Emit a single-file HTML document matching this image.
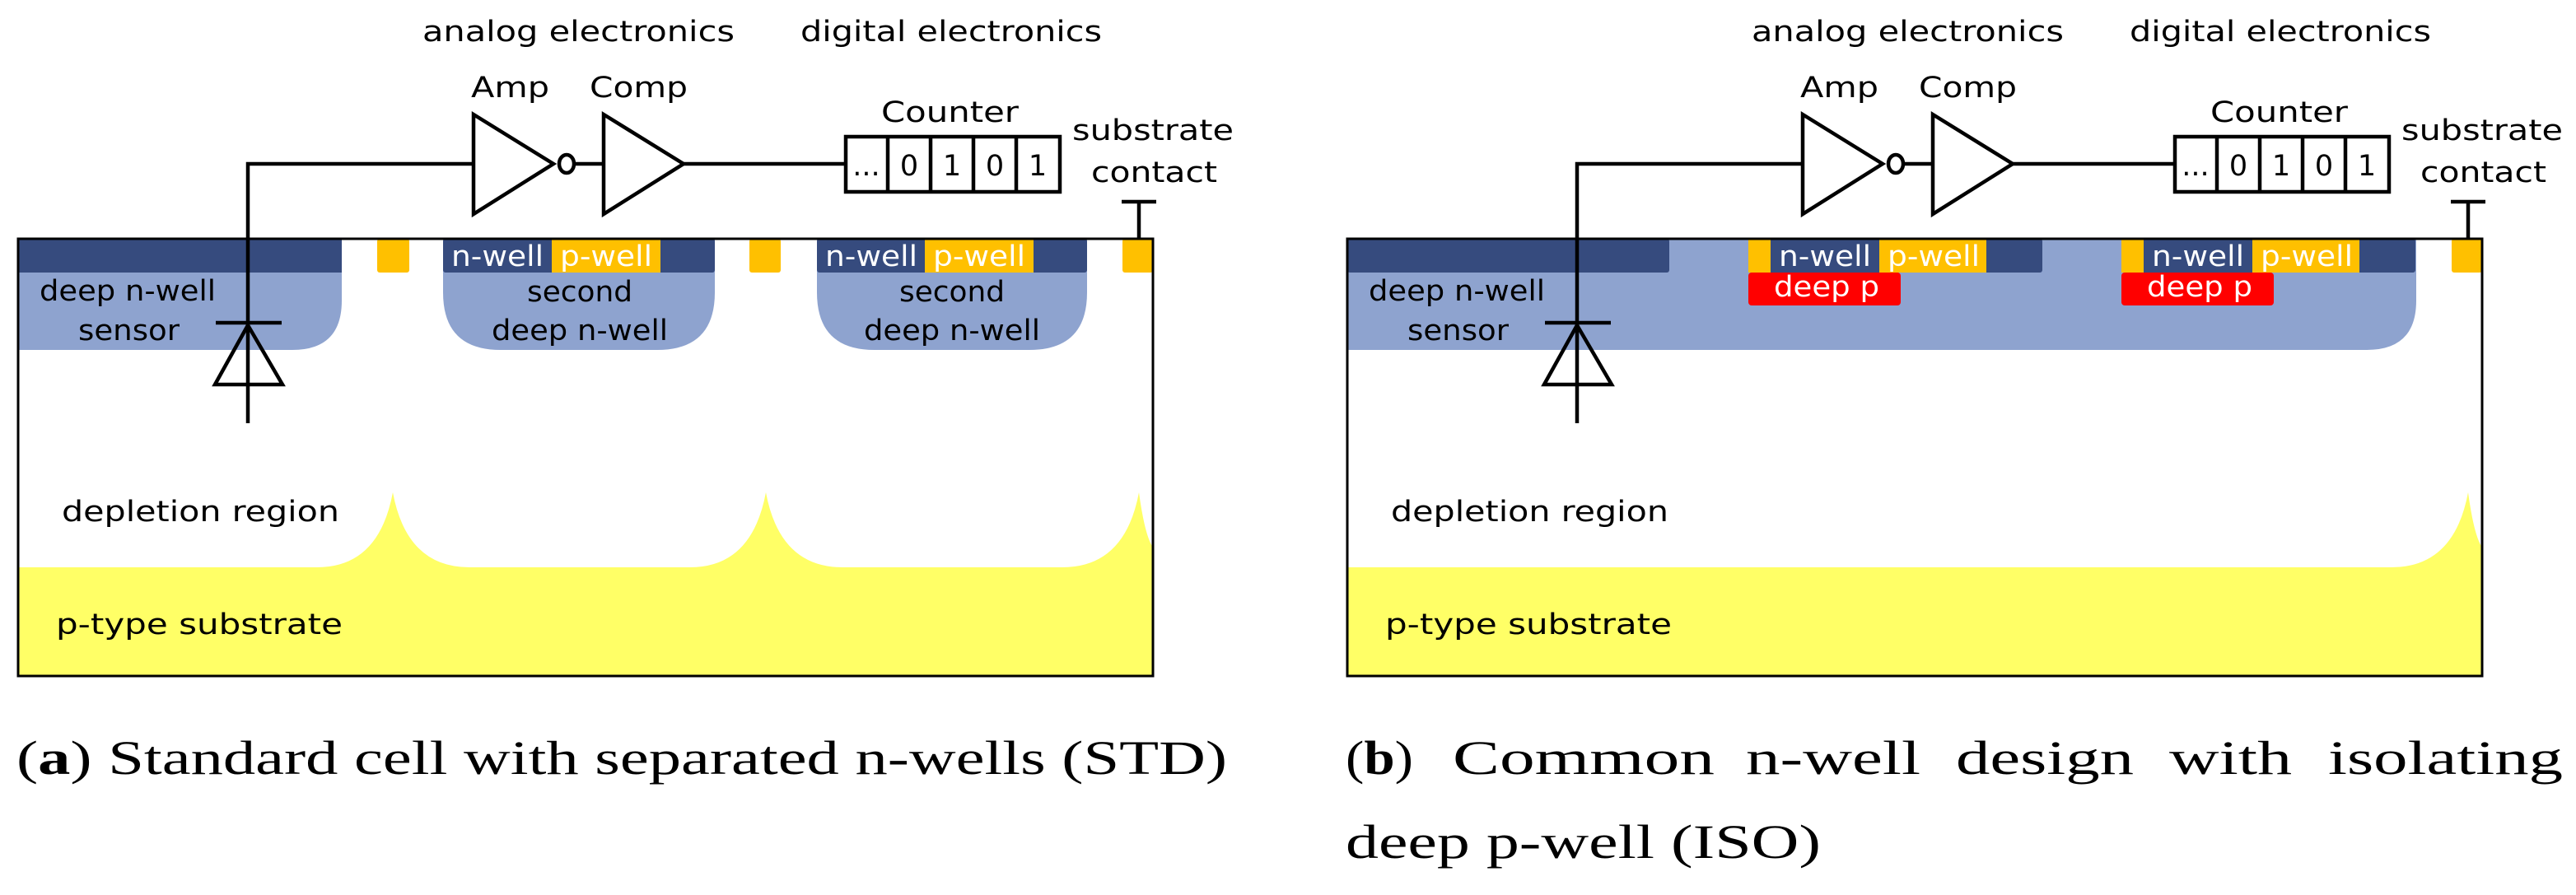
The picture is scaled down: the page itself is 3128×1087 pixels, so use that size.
<!DOCTYPE html>
<html><head><meta charset="utf-8"><style>
html,body{margin:0;padding:0;background:#fff;}
svg{display:block;}
.t{font-family:"DejaVu Sans","Liberation Sans",sans-serif;font-size:35px;}
.c{font-family:"Liberation Serif",serif;font-size:58px;}
</style></head><body>
<svg width="3128" height="1087" viewBox="0 0 3128 1087" xmlns="http://www.w3.org/2000/svg">
<defs>
<g id="common">
  <rect x="22" y="290" width="1378" height="531" fill="#fff"/>
</g>
<g id="circuit" fill="none" stroke="#000" stroke-width="4.5">
  <polyline points="301,514 301,199 575,199"/>
  <polygon points="575,139 672,199 575,260" fill="#fff"/>
  <ellipse cx="688" cy="199" rx="9" ry="11" fill="#fff"/>
  <line x1="697" y1="199" x2="733" y2="199"/>
  <polygon points="733,139 830,199 733,260" fill="#fff"/>
  <line x1="830" y1="199" x2="1027" y2="199"/>
  <rect x="1027" y="166" width="260" height="67" fill="#fff"/>
  <line x1="1078" y1="166" x2="1078" y2="233"/>
  <line x1="1130" y1="166" x2="1130" y2="233"/>
  <line x1="1182" y1="166" x2="1182" y2="233"/>
  <line x1="1234" y1="166" x2="1234" y2="233"/>
  <line x1="262" y1="392" x2="342" y2="392"/>
  <polygon points="301,395 261,467 343,467"/>
  <line x1="1362" y1="245" x2="1404" y2="245"/>
  <line x1="1383" y1="245" x2="1383" y2="290"/>
</g>
<g id="labels" class="t" fill="#000">
  <text x="513" y="50" textLength="379" lengthAdjust="spacingAndGlyphs">analog electronics</text>
  <text x="972" y="50" textLength="366" lengthAdjust="spacingAndGlyphs">digital electronics</text>
  <text x="572" y="118" textLength="95" lengthAdjust="spacingAndGlyphs">Amp</text>
  <text x="716" y="118" textLength="119" lengthAdjust="spacingAndGlyphs">Comp</text>
  <text x="1070" y="148" textLength="167" lengthAdjust="spacingAndGlyphs">Counter</text>
  <text x="1302" y="170" textLength="196" lengthAdjust="spacingAndGlyphs">substrate</text>
  <text x="1325" y="221" textLength="153" lengthAdjust="spacingAndGlyphs">contact</text>
  <text x="1052" y="213" text-anchor="middle">...</text>
  <text x="1104" y="213" text-anchor="middle">0</text>
  <text x="1156" y="213" text-anchor="middle">1</text>
  <text x="1208" y="213" text-anchor="middle">0</text>
  <text x="1260" y="213" text-anchor="middle">1</text>
  <text x="75" y="633" textLength="337" lengthAdjust="spacingAndGlyphs">depletion region</text>
  <text x="68" y="770" textLength="348" lengthAdjust="spacingAndGlyphs">p-type substrate</text>
  <text x="48" y="365" textLength="214" lengthAdjust="spacingAndGlyphs">deep n-well</text>
  <text x="95" y="413" textLength="123" lengthAdjust="spacingAndGlyphs">sensor</text>
</g>
</defs>

<!-- ===== Panel a ===== -->
<use href="#common"/>
<path d="M22,689 L385,689 Q460,689 477,598 Q494,689 570,689 L838,689 Q913,689 930,598 Q947,689 1023,689 L1290,689 Q1366,689 1383,598 Q1390,650 1400,665 L1400,821 L22,821 Z" fill="#FFFF66"/>
<path d="M22,290 L415,290 L415,365 Q415,425 355,425 L22,425 Z" fill="#8EA3CF"/>
<rect x="22" y="290" width="393" height="41" fill="#364B7E"/>
<rect x="458" y="290" width="39" height="41" rx="3" fill="#FFC000"/>
<path d="M538,290 L868,290 L868,355 Q868,425 798,425 L608,425 Q538,425 538,355 Z" fill="#8EA3CF"/>
<rect x="538" y="290" width="330" height="41" rx="3" fill="#364B7E"/>
<rect x="670" y="290" width="132" height="41" fill="#FFC000"/>
<rect x="910" y="290" width="38" height="41" rx="3" fill="#FFC000"/>
<path d="M992,290 L1320,290 L1320,355 Q1320,425 1250,425 L1062,425 Q992,425 992,355 Z" fill="#8EA3CF"/>
<rect x="992" y="290" width="328" height="41" rx="3" fill="#364B7E"/>
<rect x="1123" y="290" width="132" height="41" fill="#FFC000"/>
<rect x="1363" y="290" width="37" height="41" rx="3" fill="#FFC000"/>
<g class="t" fill="#fff">
  <text x="548" y="323" textLength="112" lengthAdjust="spacingAndGlyphs">n-well</text>
  <text x="680" y="323" textLength="112" lengthAdjust="spacingAndGlyphs">p-well</text>
  <text x="1002" y="323" textLength="112" lengthAdjust="spacingAndGlyphs">n-well</text>
  <text x="1133" y="323" textLength="112" lengthAdjust="spacingAndGlyphs">p-well</text>
</g>
<g class="t" fill="#000">
  <text x="640" y="366" textLength="128" lengthAdjust="spacingAndGlyphs">second</text>
  <text x="597" y="413" textLength="214" lengthAdjust="spacingAndGlyphs">deep n-well</text>
  <text x="1092" y="366" textLength="128" lengthAdjust="spacingAndGlyphs">second</text>
  <text x="1049" y="413" textLength="214" lengthAdjust="spacingAndGlyphs">deep n-well</text>
</g>
<rect x="22" y="290" width="1378" height="531" fill="none" stroke="#000" stroke-width="3"/>
<use href="#circuit"/>
<use href="#labels"/>

<!-- ===== Panel b ===== -->
<g transform="translate(1614,0)">
<use href="#common"/>
<path d="M22,689 L1290,689 Q1366,689 1383,598 Q1390,650 1400,665 L1400,821 L22,821 Z" fill="#FFFF66"/>
<path d="M22,290 L1320,290 L1320,365 Q1320,425 1260,425 L22,425 Z" fill="#8EA3CF"/>
<rect x="22" y="290" width="391" height="41" rx="3" fill="#364B7E"/>
<rect x="509" y="290" width="357" height="41" rx="3" fill="#364B7E"/>
<rect x="509" y="290" width="27" height="41" fill="#FFC000"/>
<rect x="668" y="290" width="130" height="41" fill="#FFC000"/>
<rect x="509" y="331" width="185" height="40" rx="4" fill="#FF0000"/>
<rect x="962" y="290" width="357" height="41" rx="3" fill="#364B7E"/>
<rect x="962" y="290" width="27" height="41" fill="#FFC000"/>
<rect x="1121" y="290" width="130" height="41" fill="#FFC000"/>
<rect x="962" y="331" width="185" height="40" rx="4" fill="#FF0000"/>
<rect x="1363" y="290" width="37" height="41" rx="3" fill="#FFC000"/>
<g class="t" fill="#fff">
  <text x="546" y="323" textLength="112" lengthAdjust="spacingAndGlyphs">n-well</text>
  <text x="678" y="323" textLength="112" lengthAdjust="spacingAndGlyphs">p-well</text>
  <text x="540" y="360" textLength="128" lengthAdjust="spacingAndGlyphs">deep p</text>
  <text x="999" y="323" textLength="112" lengthAdjust="spacingAndGlyphs">n-well</text>
  <text x="1131" y="323" textLength="112" lengthAdjust="spacingAndGlyphs">p-well</text>
  <text x="993" y="360" textLength="128" lengthAdjust="spacingAndGlyphs">deep p</text>
</g>
<rect x="22" y="290" width="1378" height="531" fill="none" stroke="#000" stroke-width="3"/>
<use href="#circuit"/>
<use href="#labels"/>
</g>

<!-- captions -->
<g class="c" fill="#000">
  <text x="20" y="940" textLength="1470" lengthAdjust="spacingAndGlyphs">(<tspan font-weight="bold">a</tspan>) Standard cell with separated n-wells (STD)</text>
  <text x="1634" y="940" textLength="82" lengthAdjust="spacingAndGlyphs">(<tspan font-weight="bold">b</tspan>)</text>
  <text x="1764" y="940" textLength="318" lengthAdjust="spacingAndGlyphs">Common</text>
  <text x="2120" y="940" textLength="212" lengthAdjust="spacingAndGlyphs">n-well</text>
  <text x="2375" y="940" textLength="216" lengthAdjust="spacingAndGlyphs">design</text>
  <text x="2634" y="940" textLength="149" lengthAdjust="spacingAndGlyphs">with</text>
  <text x="2827" y="940" textLength="285" lengthAdjust="spacingAndGlyphs">isolating</text>
  <text x="1634" y="1042" textLength="577" lengthAdjust="spacingAndGlyphs">deep p-well (ISO)</text>
</g>
</svg>
</body></html>
